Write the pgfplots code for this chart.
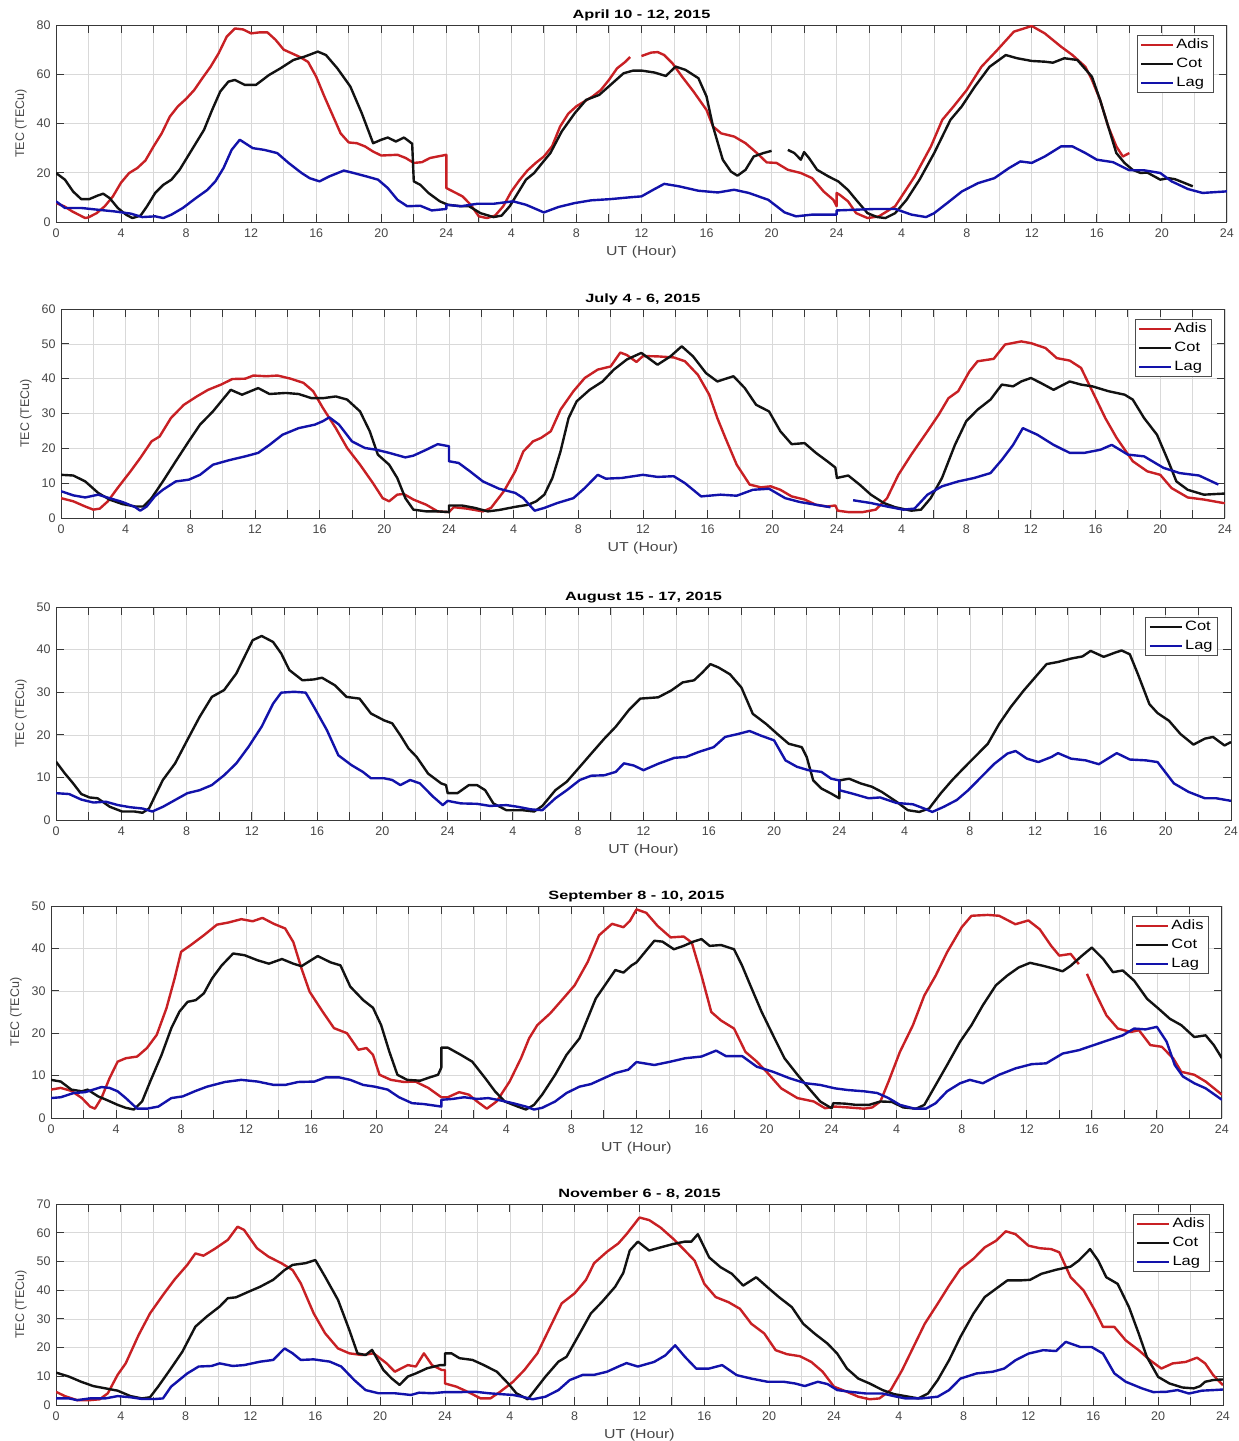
\documentclass[border=0pt]{standalone}
\usepackage{pgfplots}
\pgfplotsset{compat=1.18}
\usepackage{fontspec}
\setmainfont{Liberation Sans}
\newfontfamily\widefont{Liberation Sans}[FakeStretch=1.22]
\newfontfamily\titlefont{Liberation Sans}[FakeStretch=1.36]

\definecolor{adis}{RGB}{200,32,36}
\definecolor{cot}{RGB}{18,18,18}
\definecolor{lag}{RGB}{18,18,170}

\pgfplotsset{
  tec/.style={
    scale only axis,
    anchor=south west,
    xmin=0, xmax=72, ymin=0,
    xtick={0,2,...,72},
    xticklabels={0,,4,,8,,12,,16,,20,,24,,4,,8,,12,,16,,20,,24,,4,,8,,12,,16,,20,,24},
    grid=major,
    major grid style={line width=0.6pt, draw=gray!30},
    axis line style={line width=0.9pt, draw=black!78},
    tick style={line width=0.9pt, draw=black!78},
    major tick length=8pt,
    tick align=inside,
    xtick pos=both, ytick pos=both,
    xticklabel pos=lower, yticklabel pos=left,
    /pgf/number format/assume math mode=true,
    tick label style={font=\fontsize{12.5}{14}\selectfont, text=black!72},
    xticklabel style={yshift=-3pt},
    yticklabel style={xshift=-2pt},
    xlabel={UT (Hour)},
    ylabel={TEC (TECu)},
    every axis x label/.style={at={(rel axis cs:0.5,0)}, anchor=base, yshift=-33pt,
      font=\widefont\fontsize{13}{14}\selectfont, text=black!72},
    every axis y label/.style={at={(rel axis cs:0,0.5)}, xshift=-35pt, rotate=90,
      anchor=center, font=\fontsize{12.5}{14}\selectfont, text=black!72},
    every axis title/.style={at={(rel axis cs:0.5,1)}, anchor=base, yshift=7pt,
      font=\titlefont\bfseries\fontsize{12}{14}\selectfont},
    unbounded coords=jump,
    legend style={at={(rel axis cs:1,1)}, anchor=north east, xshift=-13pt, yshift=-10pt,
      draw=black!70, line width=0.8pt, fill=white, inner xsep=3pt, inner ysep=0pt,
      font=\widefont\fontsize{13.5}{14}\selectfont,
      nodes={text height=11pt, text depth=4pt, inner ysep=2pt}, row sep=0pt},
    legend cell align=left,
    legend image code/.code={\draw[#1, line width=2.4pt] (0pt,0pt) -- (32pt,0pt);},
    every axis plot/.append style={line width=2.4pt, line join=round},
  },
}

\begin{document}
\begin{tikzpicture}
\useasboundingbox (0pt,0pt) rectangle (1239pt,-1441pt);

% ---------------- April 10 - 12, 2015 ----------------
\begin{axis}[tec, at={(56pt,-222pt)}, width=1171pt, height=197pt,
  ymax=80, ytick={0,20,...,80}, title={April 10 - 12, 2015}]
\addplot[adis] coordinates {
(0,7.7)(0.5,6.4)(1,4.3)(1.5,2.6)(1.8,1.6)(2,1.9)(2.5,3.6)(3,6.4)(3.5,10.4)(4,16)(4.5,19.9)(5,21.9)(5.5,25)(6,30.7)(6.5,36)(7,42.8)(7.5,47)(8,50)(8.5,53.6)(9,58.4)(9.5,63)(10,68.5)(10.5,75.3)(11,78.6)(11.5,78.2)(12,76.6)(12.5,77)(13,77)(13.5,74)(14,70)(14.5,68.5)(15,67)(15.5,65)(16,59)(16.5,51)(17,43.5)(17.5,36)(18,32.3)(18.5,32)(19,30.7)(19.5,28.6)(20,27)(21,27.3)(21.5,26)(22,24)(22.5,24.3)(23,26)(24,27.3)(24,13.8)(25,10.4)(25.5,7)(26,2.3)(26.5,1.6)(27,2.6)(27.5,6.4)(28,12.4)(28.5,17)(29,21)(29.5,24)(30,26.6)(30.5,30.7)(31,38.8)(31.5,44)(32,47)(32.5,49)(33,51)(33.5,53.6)(34,57.7)(34.5,62.4)(35,65)(35.3,67)(35.6,nan)
(36,67.4)(36.6,68.8)(37,69)(37.4,67.8)(37.9,64.5)(38.5,59)(39.2,53)(40,45.5)(40.4,38.8)(40.9,36)(41.7,34.7)(42.4,32)(43.1,28)(43.7,24.2)(44.3,24)(45,21.2)(45.8,19.9)(46.5,17.8)(47.2,12.4)(47.8,9)(48,6.4)(48,11.8)(48.2,11)(48.7,8.4)(49.2,3.6)(49.9,1.6)(50.6,2.3)(51.6,6.4)(52.8,18.5)(53.8,30.7)(54.5,41.5)(55.2,47)(56,53.6)(56.9,63)(57.9,70)(58.9,77.3)(60,79.6)(60.8,76.6)(61.8,71.2)(62.5,67.8)(63.3,63)(63.7,57.7)(64.2,49.6)(64.7,38.8)(65.2,30.7)(65.6,26.6)(66,28)};
\addlegendentry{Adis}
\addplot[cot] coordinates {
(0,19.9)(0.55,17.2)(1.05,12.4)(1.55,9.3)(2.05,9.3)(2.55,10.7)(2.9,11.5)(3.3,9.7)(3.8,5.7)(4.3,3)(4.7,1.6)(5.2,2.6)(5.6,6.4)(6.1,11.8)(6.6,15.1)(7.1,17.2)(7.6,21.2)(8.1,26.6)(8.6,32)(9.1,37.4)(9.6,45.5)(10.1,53)(10.6,57)(11,57.7)(11.6,55.7)(12.3,55.7)(13.1,59.7)(13.8,62.4)(14.6,65.8)(15.3,67.2)(16.1,69.2)(16.6,67.8)(17.3,62.4)(18.1,55)(18.8,44.2)(19.5,32)(20,33.4)(20.4,34.3)(20.9,32.7)(21.4,34.3)(21.9,31.8)(22,16.5)(22.4,15.1)(22.9,11.8)(23.6,8.4)(24.1,7)(24.9,6.4)(25.4,6.4)(26.1,3.6)(26.9,2)(27.4,2.6)(27.9,6.4)(28.4,11.8)(28.9,17.2)(29.4,19.9)(29.9,24)(30.4,28)(31.1,36.8)(31.9,44.2)(32.6,49.6)(33.4,51.6)(34.1,55.7)(34.9,60.4)(35.5,61.5)(36,61.5)(36.8,60.7)(37.5,59.3)(38.1,63.1)(38.7,61.8)(39.5,58.4)(40,51)(40.4,38.8)(40.7,32)(41,25.3)(41.5,20.5)(41.9,18.8)(42.4,21.2)(42.9,26.6)(43.5,28)(44,28.9)(44.5,nan)
(45,29.3)(45.4,28)(45.8,25.3)(46,28.4)(46.3,26)(46.8,21.2)(47.5,18.5)(48.1,16.5)(48.7,13)(49.2,9)(49.9,3.6)(50.5,2)(51,1.6)(51.6,3.6)(52.3,9)(53.1,17.2)(54,28)(55,41.5)(55.7,47)(56.5,55)(57.4,63)(58.4,67.8)(59.1,66.5)(60,65.4)(60.8,65.1)(61.3,64.7)(62,66.5)(62.8,65.8)(63.7,59)(64.2,49.6)(64.7,38.8)(65.2,28)(65.7,24)(66.2,21.2)(66.7,19.9)(67.1,20.1)(67.9,17.2)(68.4,17.8)(68.8,17.4)(69.3,16.1)(69.9,14.5)};
\addlegendentry{Cot}
\addplot[lag] coordinates {
(0,8.4)(0.55,5.7)(1.55,5.7)(2.55,5)(3.6,4.3)(4.6,3.4)(5.3,2)(6.1,2.3)(6.6,1.6)(7.1,3)(7.8,5.7)(8.6,9.7)(9.3,13)(9.8,16.5)(10.3,21.9)(10.8,29.3)(11.3,33.4)(12.1,30)(12.8,29.3)(13.6,28)(14.3,24)(15.1,19.9)(15.6,17.8)(16.2,16.5)(16.8,18.5)(17.7,20.9)(18.3,19.9)(19.1,18.5)(19.8,17.2)(20.4,13.8)(21,9)(21.6,6.4)(22.4,6.6)(23.1,4.7)(24,5.3)(24,7)(24.9,6.4)(25.9,7.4)(26.9,7.4)(28.1,8.4)(28.9,7)(30,3.9)(30.9,6.1)(31.9,7.7)(32.9,8.8)(34.1,9.3)(35.4,10.1)(36,10.4)(36.7,13)(37.4,15.5)(38.3,14.5)(39.5,12.7)(40.7,12)(41.7,13.1)(42.6,11.8)(43.8,9)(44.8,3.9)(45.5,2.3)(46.5,3)(47.5,3)(48,3)(48,4.7)(49.2,5)(50.4,5.3)(51.6,5.3)(52.6,3)(53.5,2)(54,3.6)(54.8,7.7)(55.7,12.4)(56.7,15.8)(57.7,17.8)(58.6,21.9)(59.3,24.6)(60,24)(60.8,26.6)(61.8,30.7)(62.5,30.7)(63.3,28)(64,25.3)(65,24.3)(66,21)(66.9,21)(67.9,19.9)(68.6,16.5)(69.6,13.4)(70.5,11.8)(71.9,12.4)(72,12.5)};
\addlegendentry{Lag}
\end{axis}

% ---------------- July 4 - 6, 2015 ----------------
\begin{axis}[tec, at={(61pt,-518pt)}, width=1164pt, height=209pt,
  ymax=60, ytick={0,10,...,60}, title={July 4 - 6, 2015}]
\addplot[adis] coordinates {
(0,5.7)(0.76,4.8)(1.5,3.3)(2,2.4)(2.4,2.7)(2.9,4.8)(3.5,8.6)(4.3,13.4)(4.9,17.2)(5.6,22)(6.1,23.4)(6.8,28.7)(7.6,32.5)(8.4,34.9)(9.1,36.8)(9.9,38.3)(10.6,39.9)(11.4,40)(11.9,40.9)(12.7,40.7)(13.4,40.9)(14.2,40)(15,38.8)(15.6,36.4)(16.2,31.6)(17,25.8)(17.7,20.1)(18.5,15.3)(19.3,10)(19.9,5.7)(20.3,4.8)(20.8,6.7)(21.2,6.9)(21.8,5.3)(22.6,3.8)(23.3,1.9)(24,1.7)(24.3,3.1)(25.1,2.7)(26.1,1.9)(26.6,2.9)(27.4,7.7)(28.1,13.4)(28.6,19.1)(29.2,22)(29.7,23)(30.3,24.9)(30.9,31.1)(31.7,36.4)(32.4,40.2)(33.2,42.6)(34,43.5)(34.6,47.5)(35,46.8)(35.6,44.8)(36,46.5)(36.9,46.4)(37.9,46.1)(38.6,45)(39.4,41.1)(40.1,35.4)(40.6,28.7)(41.1,23)(41.8,15.3)(42.6,9.6)(43.3,8.8)(43.9,9.1)(44.5,8.1)(45.2,6.2)(46,5.3)(46.7,3.8)(47.4,3.3)(47.9,3.6)(48.05,2.1)(48.7,1.7)(49.6,1.7)(50.4,2.4)(51.1,5.7)(51.8,12.4)(52.6,18.2)(53.6,24.9)(54.3,29.7)(54.9,34.4)(55.5,36.4)(56.2,42.1)(56.7,45)(57.7,45.7)(58.4,49.8)(59.4,50.7)(60,50.2)(60.9,48.8)(61.6,45.9)(62.4,45.2)(63.1,43.1)(63.8,36.4)(64.6,28.7)(65.3,23)(66.3,16.3)(67.2,13.4)(68,12.4)(68.7,8.6)(69.7,5.9)(70.7,5.3)(71.9,4.3)(72,4.3)};
\addlegendentry{Adis}
\addplot[cot] coordinates {
(0,12.4)(0.76,12.2)(1.5,10.5)(2.3,7.2)(3,5.3)(3.8,4)(4.6,3.3)(5.1,3.3)(5.6,5.7)(6.3,10.5)(7.1,16.3)(7.9,22)(8.6,26.8)(9.4,30.6)(10,34)(10.5,36.8)(11.2,35.4)(12.2,37.3)(12.9,35.6)(13.9,35.9)(14.7,35.6)(15.5,34.4)(16.2,34.4)(17,34.9)(17.7,34)(18.5,30.6)(19.1,24.9)(19.6,18.2)(20.3,15.3)(20.8,11.5)(21.3,5.7)(21.8,2.4)(22.6,1.9)(23.3,1.9)(24,1.7)(24,3.6)(24.8,3.6)(25.6,2.9)(26.4,1.9)(27.1,2.3)(28.1,3.2)(28.9,3.8)(29.4,4.8)(29.9,6.7)(30.4,11.5)(30.9,19.1)(31.4,28.7)(31.9,33.5)(32.7,36.8)(33.5,39.2)(34.2,42.6)(35,45.5)(35.9,47.4)(36.9,44)(37.7,46.4)(38.4,49.3)(39.1,46.4)(39.9,41.6)(40.6,39.2)(41.6,40.7)(42.3,37.3)(43,32.5)(43.8,30.6)(44.5,24.9)(45.2,21.2)(46,21.5)(46.7,18.7)(47.4,16.3)(47.9,14.5)(48,11.5)(48.7,12.2)(49.4,9.6)(50.1,6.7)(50.9,4.3)(51.6,3.1)(52.6,2.1)(53.2,2.4)(53.8,5.7)(54.5,11.5)(55.3,21)(56,27.8)(56.7,31.1)(57.5,34)(58.2,38.3)(58.9,37.8)(59.4,39.2)(60,40.2)(60.6,38.8)(61.4,36.8)(62.4,39.2)(63.1,38.3)(63.8,37.8)(64.8,36.4)(65.8,35.4)(66.3,34)(67,28.7)(67.8,23.9)(68.5,16.3)(69,10.5)(69.7,8.1)(70.7,6.7)(71.9,7)(72,7)};
\addlegendentry{Cot}
\addplot[lag] coordinates {
(0,7.7)(0.76,6.5)(1.5,5.9)(2.3,6.7)(3,5.7)(3.8,4.6)(4.6,3.1)(4.9,2.1)(5.3,3.3)(5.8,6.2)(6.3,8.1)(7.1,10.5)(7.9,11)(8.6,12.4)(9.4,15.3)(10.4,16.6)(11.4,17.7)(12.2,18.7)(12.9,21)(13.7,23.9)(14.7,25.8)(15.7,26.8)(16.2,27.8)(16.6,28.9)(17.2,26.8)(18,22)(18.8,20.1)(19.5,19.6)(20.3,18.7)(21.3,17.4)(21.8,17.9)(22.6,19.6)(23.3,21.2)(24,20.6)(24,16.3)(24.6,15.8)(25.3,13.4)(26.1,10.5)(27.1,8.4)(28.1,7.2)(28.6,5.7)(29.3,2.1)(29.9,2.9)(30.7,4.3)(31.7,5.7)(32.4,8.6)(33.2,12.4)(33.7,11.3)(34.7,11.5)(36,12.4)(36.9,11.8)(37.9,12)(38.6,10)(39.6,6.2)(40.8,6.7)(41.8,6.4)(42.8,8.1)(43.8,8.4)(44.8,5.7)(45.7,4.6)(46.7,3.8)(47.6,3.1)(48.3,nan)
(49,5.1)(50.1,4.3)(51.1,3.3)(52.1,2.4)(52.8,2.7)(53.6,6.7)(54.5,9.1)(55.5,10.5)(56.5,11.5)(57.5,12.9)(58.2,16.7)(58.9,21)(59.5,25.8)(60.4,23.9)(61.4,21)(62.4,18.7)(63.3,18.7)(64.3,19.6)(65,21)(66,18.2)(67,17.7)(68.2,14.4)(69.2,12.9)(70.4,12.2)(71.6,9.6)};
\addlegendentry{Lag}
\end{axis}

% ---------------- August 15 - 17, 2015 ----------------
\begin{axis}[tec, at={(56pt,-820pt)}, width=1175pt, height=213pt,
  ymax=50, ytick={0,10,...,50}, title={August 15 - 17, 2015}]
\addplot[cot] coordinates {
(0,13.7)(0.55,10.9)(1.05,8.6)(1.55,6.1)(2.05,5.3)(2.55,5.1)(3.3,3.1)(4.05,2)(4.8,2)(5.3,1.7)(5.7,2.7)(6.05,5.5)(6.55,9.4)(7.3,13.3)(8.05,18.8)(8.8,24.2)(9.55,28.9)(10.3,30.5)(11.05,34.4)(11.55,38.3)(12.05,42.2)(12.6,43.2)(13.3,41.8)(13.8,39.1)(14.3,35.2)(15.1,32.8)(15.8,33)(16.3,33.4)(17.1,31.6)(17.8,28.9)(18.6,28.5)(19.3,25)(20.1,23.4)(20.6,22.7)(21.1,19.9)(21.6,16.8)(22.1,14.8)(22.8,10.9)(23.6,8.6)(23.9,8.2)(24,6.3)(24.6,6.3)(25.3,8.2)(25.8,8.2)(26.3,7)(26.8,3.9)(27.6,2.3)(28.6,2.3)(29.3,2)(29.8,3.3)(30.6,7)(31.3,9)(32.1,12.5)(32.8,15.6)(33.6,19.1)(34.3,21.9)(35.1,25.8)(35.8,28.5)(36.9,28.8)(37.7,30.4)(38.4,32.3)(39.1,32.8)(39.6,34.6)(40.1,36.6)(40.6,35.8)(41.3,34.2)(42,31.1)(42.7,24.9)(43.5,22.6)(44.2,20.2)(44.9,17.9)(45.7,17.1)(46,14.8)(46.4,9.3)(46.9,7.4)(47.5,6.2)(48,5.1)(48,9.3)(48.6,9.7)(49.3,8.6)(50,7.8)(50.6,6.6)(51.5,4.3)(52.2,2.3)(52.9,1.9)(53.5,2.7)(54.2,6.2)(54.9,9.3)(55.6,12.1)(56.3,14.8)(57.1,17.9)(57.8,22.6)(58.5,26.5)(59.3,30.4)(60,33.5)(60.7,36.6)(61.4,37.1)(62.2,37.9)(62.9,38.4)(63.4,39.7)(64.2,38.3)(64.9,39.3)(65.3,39.8)(65.8,38.9)(66.3,34.2)(67,27.2)(67.5,25.1)(68.2,23.3)(68.9,20.2)(69.7,17.7)(70.4,19.1)(70.9,19.5)(71.6,17.5)(72,18.3)};
\addlegendentry{Cot}
\addplot[lag] coordinates {
(0,6.3)(0.8,6.1)(1.55,4.8)(2.3,4.1)(3.05,4.3)(3.8,3.5)(4.55,3)(5.3,2.7)(5.9,2)(6.55,3.1)(7.3,4.7)(8.05,6.3)(8.8,7)(9.55,8.2)(10.3,10.5)(11.05,13.3)(11.8,17.2)(12.6,21.9)(13.3,27.3)(13.8,29.9)(14.6,30.1)(15.3,29.9)(15.8,26.6)(16.6,21.1)(17.3,15.2)(18.1,12.9)(18.8,11.3)(19.3,9.8)(20.1,9.8)(20.6,9.4)(21.1,8.2)(21.7,9.4)(22.3,8.6)(23.1,5.5)(23.7,3.5)(24,4.5)(24.8,3.9)(25.8,3.8)(26.6,3.3)(27.6,3.5)(28.3,3.1)(29.1,2.5)(29.8,2.3)(30.6,5.1)(31.3,7)(32.1,9.4)(32.8,10.4)(33.6,10.5)(34.3,11.3)(34.8,13.3)(35.4,12.8)(36,11.7)(36.9,13.2)(37.9,14.6)(38.6,14.8)(39.4,16)(40.3,17.1)(41,19.5)(41.8,20.2)(42.5,20.9)(43.2,19.8)(44,18.7)(44.7,14)(45.4,12.5)(46.1,11.7)(46.9,11.3)(47.5,9.7)(48,9.3)(48,7)(48.8,6.2)(49.8,5.1)(50.5,5.3)(51.5,4)(52.5,3.7)(53.2,2.7)(53.7,1.9)(54.4,3.1)(55.2,4.7)(55.9,7)(56.8,10.5)(57.5,13.2)(58.3,15.6)(58.8,16.2)(59.5,14.4)(60.2,13.6)(61,14.8)(61.4,15.7)(62.2,14.4)(63.1,14)(63.9,13.1)(65,15.7)(65.8,14.2)(66.8,14)(67.5,13.6)(68.5,8.6)(69.4,6.6)(70.4,5.1)(71.1,5.1)(72,4.5)};
\addlegendentry{Lag}
\end{axis}

% ---------------- September 8 - 10, 2015 ----------------
\begin{axis}[tec, at={(51pt,-1118pt)}, width=1171pt, height=212pt,
  ymax=50, ytick={0,10,...,50}, title={September 8 - 10, 2015}]
\addplot[adis] coordinates {
(0,6.7)(0.6,7.1)(1.25,6.4)(1.9,4.7)(2.4,2.7)(2.7,2.2)(3.1,4.7)(3.6,9.4)(4.1,13.3)(4.6,14.1)(5.3,14.5)(5.9,16.5)(6.5,19.6)(7.1,25.9)(7.6,32.9)(8,39.2)(8.6,40.8)(9.4,43.1)(10.2,45.6)(10.9,46.1)(11.7,46.9)(12.4,46.4)(13,47.2)(13.7,45.8)(14.4,44.7)(14.9,41.5)(15.4,35.3)(15.9,29.8)(16.7,25.1)(17.4,21.2)(18.2,20)(18.9,16.1)(19.4,16.5)(19.8,14.9)(20.2,10.2)(20.9,9)(21.7,8.5)(22.4,8.6)(23.2,7.1)(24,4.9)(24.4,4.9)(25.1,6.1)(25.7,5.5)(26.2,3.9)(26.8,2.2)(27.4,3.9)(28.2,8.6)(28.9,14.1)(29.4,18.8)(29.9,21.9)(30.7,24.7)(31.5,28.2)(32.2,31.3)(33,36.8)(33.7,43.1)(34.5,45.8)(35.2,45)(35.6,46.5)(36,49.2)(36.6,48.4)(37.3,45.3)(38.1,42.6)(38.9,42.8)(39.4,41.4)(40,33.6)(40.6,25)(41.2,23)(42,21.1)(42.7,15.6)(43.4,13.3)(44,10.9)(44.9,7)(45.9,4.7)(46.9,3.9)(47.6,2.3)(48.2,2.7)(49,2.5)(50,2.2)(50.5,2.5)(51,3.9)(51.5,8.6)(52.2,15.6)(53,21.9)(53.7,28.9)(54.4,33.6)(55.1,39.1)(56,45)(56.6,47.7)(57.6,47.9)(58.3,47.7)(59.3,45.7)(60.1,46.6)(60.8,44.5)(61.5,40.6)(62,38.3)(62.7,38.7)(63.2,36.3)(63.4,nan)
(63.7,34)(64.2,29.7)(64.9,24.2)(65.6,21.1)(66.4,20.3)(66.9,20.7)(67.6,17.2)(68.3,16.8)(69,14.1)(69.5,10.9)(70.3,10.2)(71,8.6)(72,5.5)};
\addlegendentry{Adis}
\addplot[cot] coordinates {
(0,9)(0.6,8.6)(1.25,6.7)(1.9,6.3)(2.25,6.7)(2.9,5.1)(3.4,4.3)(4.1,3.1)(4.6,2.4)(5.1,2)(5.6,3.9)(6.1,8.6)(6.8,14.9)(7.4,21.2)(7.9,25.1)(8.4,27.4)(8.9,27.8)(9.4,29.4)(9.9,32.9)(10.5,36)(11.2,38.8)(11.9,38.4)(12.7,37.2)(13.4,36.4)(14.2,37.5)(14.9,36.4)(15.4,35.8)(15.9,37)(16.4,38.2)(17.2,36.7)(17.8,36)(18.4,31)(19.2,27.8)(19.8,26)(20.3,21.9)(20.8,15.7)(21.3,10.2)(21.9,9)(22.7,8.8)(23.3,9.6)(23.8,10.2)(24,11.9)(24,16.6)(24.4,16.6)(25.2,14.9)(25.9,13.3)(26.7,9.4)(27.3,6.3)(27.9,3.9)(28.7,2.7)(29.2,2)(29.7,3.1)(30.2,5.5)(31,10.2)(31.7,14.9)(32.5,18.8)(33,23.5)(33.5,28.2)(34.2,32.1)(34.7,34.9)(35.2,34.3)(35.7,36)(36,36.7)(36.6,39.5)(37.1,41.8)(37.6,41.6)(38.3,39.8)(38.9,40.6)(39.5,41.6)(40,42.2)(40.5,40.6)(41.2,40.8)(42,39.8)(42.5,35.9)(43,31.3)(43.7,25)(44.4,19.5)(45.1,14.1)(45.9,10.2)(46.6,7)(47.3,3.9)(48,2.3)(48.1,3.5)(48.8,3.4)(49.5,3.1)(50.3,3.1)(51,3.9)(51.7,3.8)(52.4,2.5)(53.2,2.2)(53.7,3.1)(54.4,7.8)(55.1,12.5)(55.9,18)(56.6,21.9)(57.3,26.6)(58.1,31.3)(58.8,33.6)(59.5,35.5)(60.2,36.6)(61,35.9)(61.7,35.2)(62.2,34.6)(62.7,35.9)(63.4,38.3)(64,40.2)(64.7,37.5)(65.3,34.4)(65.9,34.8)(66.6,32.4)(67.4,28.1)(68.1,25.8)(68.8,23.4)(69.5,21.9)(70.3,19.1)(71,19.5)(71.5,17.2)(72,14.1)};
\addlegendentry{Cot}
\addplot[lag] coordinates {
(0,4.7)(0.6,4.9)(1.4,5.9)(2.1,6.1)(2.6,6.7)(3.1,7.3)(3.6,7.1)(4.1,6.3)(4.6,4.7)(5.3,2.2)(5.9,2.2)(6.6,2.7)(7.4,4.7)(8.1,5.1)(8.9,6.4)(9.6,7.4)(10.7,8.5)(11.7,9)(12.7,8.6)(13.7,7.8)(14.4,7.8)(15.2,8.5)(16.2,8.6)(16.9,9.6)(17.7,9.6)(18.4,9)(19.2,7.8)(19.9,7.4)(20.7,6.7)(21.4,4.9)(22.2,3.5)(22.9,3.3)(24,2.7)(24,4.3)(24.7,4.5)(25.4,4.9)(26.2,4.5)(26.9,4.7)(27.7,4.1)(28.4,3.5)(29.2,2.7)(29.7,2)(30.2,2.4)(31,3.9)(31.7,5.9)(32.5,7.4)(33.2,8)(34,9.4)(34.7,10.6)(35.5,11.4)(36,13.2)(37.1,12.5)(38.1,13.3)(39,14.1)(40,14.5)(40.9,15.9)(41.5,14.6)(42.5,14.6)(43.4,12.1)(44.4,10.9)(45.4,9.4)(46.4,8.2)(47.3,7.8)(48.2,7)(49,6.6)(50,6.3)(50.8,5.9)(51.5,4.7)(52.2,3.1)(53.1,2.2)(53.8,2.2)(54.4,3.5)(55.1,6.3)(55.9,8.2)(56.5,9)(57.3,8.2)(58.3,10.2)(59.3,11.7)(60.3,12.7)(61.2,12.9)(62.2,15.2)(63.2,16)(64.2,17.3)(65.2,18.6)(65.9,19.5)(66.6,21.1)(67.3,20.9)(68,21.5)(68.6,18)(69.1,12.5)(69.6,9.8)(70.3,8.2)(71,7)(72,4.3)};
\addlegendentry{Lag}
\end{axis}

% ---------------- November 6 - 8, 2015 ----------------
\begin{axis}[tec, at={(56pt,-1405pt)}, width=1167pt, height=201pt,
  ymax=70, ytick={0,10,...,70}, title={November 6 - 8, 2015}]
\addplot[adis] coordinates {
(0,4.6)(0.55,3.1)(1.3,1.7)(2.1,1.7)(2.7,2)(3.2,4.1)(3.8,10.5)(4.3,14.5)(5.1,24.4)(5.8,31.9)(6.6,38.3)(7.3,43.6)(8.1,48.8)(8.6,52.8)(9.1,52)(9.8,54.4)(10.6,57.5)(11.2,62.1)(11.6,61)(12.4,54.6)(13.1,51.7)(13.9,49.4)(14.6,47)(15.1,42.4)(15.9,31.9)(16.6,25)(17.4,19.7)(18.1,18)(18.9,17.4)(19.6,18)(20.4,14.5)(20.9,11.6)(21.7,13.9)(22.2,13.4)(22.7,18)(23.2,13.9)(23.8,12.2)(24,12.2)(24,7.5)(24.7,6.4)(25.4,4.6)(26.2,2.3)(26.8,2.3)(27.4,4.6)(28.2,8.1)(28.9,12.2)(29.7,18)(30.5,27.3)(31.2,35.4)(32,38.9)(32.7,43.6)(33.2,49.4)(34,53.4)(34.7,56.3)(35.2,59.5)(36,65.3)(36.6,64.4)(37.3,61.8)(38.1,57.8)(38.8,53.8)(39.4,50.3)(40,42.2)(40.7,37.6)(41.5,35.8)(42.2,33.5)(42.9,28.3)(43.7,24.9)(44.4,19.1)(45.1,17.7)(45.9,17)(46.6,15)(47.3,11.6)(48,6.4)(48.8,4.6)(49.5,2.9)(50.2,2)(50.8,2.3)(51.5,5.2)(52.2,12.1)(52.9,20.2)(53.6,28.3)(54.4,35.3)(55.1,41.6)(55.8,47.4)(56.6,50.9)(57.3,54.9)(58,57.2)(58.6,60.5)(59.2,59.5)(60,55.5)(60.7,54.6)(61.4,54.3)(61.9,53.2)(62.6,44.5)(63.4,39.9)(64.1,32.9)(64.6,27.2)(65.3,27.2)(66,22.5)(66.8,19.1)(67.5,15.6)(68.2,12.7)(68.9,14.5)(69.7,15)(70.4,16.5)(70.9,14.5)(71.4,10.4)(72,6.9)};
\addlegendentry{Adis}
\addplot[cot] coordinates {
(0,11.3)(0.8,9.9)(1.55,8.1)(2.3,6.6)(3.05,5.8)(3.8,5)(4.6,3.1)(5.3,2.3)(5.8,2.7)(6.3,6.4)(7.1,12.8)(7.8,18.6)(8.6,27.3)(9.3,30.8)(10.1,34.3)(10.6,37.2)(11.1,37.5)(11.9,39.5)(12.6,41.2)(13.4,43.6)(14.1,47)(14.6,48.8)(15.4,49.4)(16,50.5)(16.6,44.7)(17.4,36.6)(18.1,26.1)(18.6,18)(19.1,17.4)(19.5,19.2)(20.2,12.2)(20.7,9.3)(21.2,7)(21.7,9.9)(22.2,11)(22.9,12.8)(23.7,13.9)(24,13.9)(24,18)(24.4,18)(24.9,16.3)(25.7,15.7)(26.4,13.9)(27.2,11.6)(27.9,7.5)(28.4,4.1)(29.1,2)(29.4,4.1)(30.2,9.9)(31,15.1)(31.5,16.8)(32.2,23.8)(33,31.9)(33.7,36)(34.5,41.2)(35,46)(35.4,53.8)(35.9,56.9)(36.6,53.8)(37.3,54.9)(38.1,56.1)(38.8,56.9)(39.2,56.9)(39.6,59.5)(40.3,51.4)(41,48)(41.7,45.7)(42.4,41.6)(43.2,44.5)(43.9,41)(44.6,37.6)(45.4,34.1)(46.1,28.3)(46.8,24.9)(47.6,21.4)(48.2,17.9)(48.8,12.7)(49.5,9.2)(50.2,7.5)(51,5.2)(51.7,3.8)(52.4,3.1)(53.2,2.3)(53.8,4)(54.4,8.7)(55.1,15.6)(55.8,23.7)(56.6,31.8)(57.3,37.6)(58,40.5)(58.7,43.4)(59.5,43.4)(60.1,43.6)(60.8,45.7)(61.7,47.1)(62.6,48.2)(63.1,50.3)(63.8,54.3)(64.3,50.3)(64.8,44.5)(65.5,42.2)(66.2,34.1)(66.8,24.9)(67.3,16.8)(68,9.8)(68.7,7.5)(69.5,6.1)(70.2,5.8)(70.6,6.6)(70.9,8.1)(71.4,8.7)(72,8.9)};
\addlegendentry{Cot}
\addplot[lag] coordinates {
(0,2.3)(0.8,2.3)(1.3,1.7)(2.1,2.3)(3.05,2.3)(3.8,3.1)(4.6,2.7)(5.3,2.1)(6.1,2.1)(6.6,2.3)(7.1,6.4)(7.6,8.7)(8.1,11)(8.8,13.4)(9.6,13.6)(10.1,14.5)(10.9,13.6)(11.6,13.9)(12.6,15.1)(13.4,15.7)(14.1,19.7)(14.6,18)(15.1,15.7)(15.9,15.9)(16.9,15.1)(17.6,13.4)(18.4,8.7)(19.1,5.2)(19.9,4.1)(20.9,4.1)(21.9,3.5)(22.4,4.3)(23.2,4.1)(24,4.5)(24.9,4.5)(25.9,4.6)(26.7,4.1)(27.4,3.8)(28.2,3.5)(28.9,2.7)(29.4,2)(30.2,2.9)(31,5.2)(31.7,8.7)(32.5,10.5)(33.2,10.5)(34,11.6)(34.7,13.4)(35.2,14.6)(35.9,13.4)(36.9,15)(37.6,17.3)(38.2,20.8)(38.8,16.8)(39.5,12.7)(40.3,12.7)(41.1,13.9)(42,10.4)(42.9,9.2)(43.9,8.1)(44.9,8.1)(45.6,7.5)(46.2,6.6)(47,8.1)(47.6,7.3)(48.2,5.2)(49,4.6)(50,4)(51,4)(51.7,3.1)(52.4,2.3)(53.4,2.3)(54.4,2.9)(55.1,5.2)(55.8,9.2)(56.8,11)(57.8,11.6)(58.5,12.7)(59.2,15.6)(60,17.9)(60.9,19.1)(61.7,18.8)(62.3,22)(63.2,20.2)(63.9,20.2)(64.6,17.9)(65.3,11)(66,8.1)(67,5.8)(67.7,4.5)(68.5,4.6)(69.2,5.2)(69.9,4)(70.7,5)(71.4,5.2)(72,5.4)};
\addlegendentry{Lag}
\end{axis}
\end{tikzpicture}
\end{document}
